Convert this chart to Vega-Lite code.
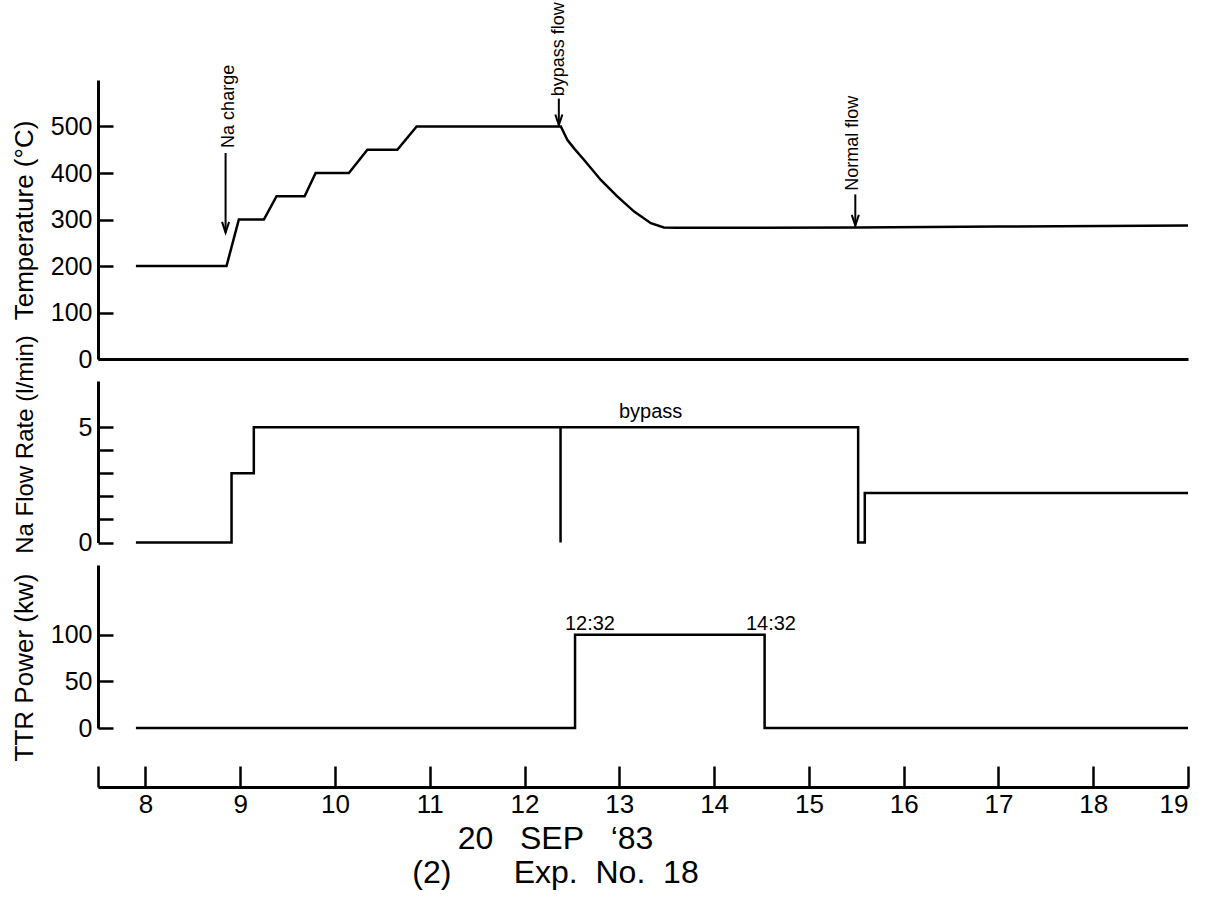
{
  "$schema": "https://vega.github.io/schema/vega-lite/v6.json",
  "background": "white",
  "padding": {"left": 11, "top": 2, "right": 5, "bottom": 5},
  "spacing": 22,
  "bounds": "flush",
  "config": {
    "view": {"stroke": null},
    "axis": {
      "grid": false,
      "labelOverlap": false,
      "tickCount": 100,
      "domainColor": "black",
      "domainWidth": 3,
      "tickColor": "black",
      "tickWidth": 2.5,
      "labelColor": "black",
      "titleColor": "black",
      "labelFont": "Liberation Sans",
      "titleFont": "Liberation Sans",
      "titleFontWeight": "normal",
      "labelFontSize": 25,
      "titleFontSize": 26
    },
    "text": {"font": "Liberation Sans", "color": "black"},
    "line": {"color": "black", "strokeWidth": 2.5}
  },
  "datasets": {
    "temp": [
      {"h": 7.9, "T": 200}, {"h": 8.856, "T": 200}, {"h": 8.986, "T": 300}, {"h": 9.25, "T": 300},
      {"h": 9.384, "T": 350}, {"h": 9.68, "T": 350}, {"h": 9.796, "T": 400}, {"h": 10.147, "T": 400},
      {"h": 10.342, "T": 450}, {"h": 10.658, "T": 450}, {"h": 10.862, "T": 500}, {"h": 12.383, "T": 500},
      {"h": 12.453, "T": 471}, {"h": 12.523, "T": 453}, {"h": 12.629, "T": 428}, {"h": 12.805, "T": 385},
      {"h": 12.981, "T": 349}, {"h": 13.157, "T": 317}, {"h": 13.333, "T": 292}, {"h": 13.47, "T": 283},
      {"h": 13.6, "T": 282}, {"h": 15.5, "T": 283}, {"h": 17, "T": 285}, {"h": 19, "T": 287}
    ],
    "flow": [
      {"i": 1, "h": 7.9, "F": 0}, {"i": 2, "h": 8.909, "F": 0}, {"i": 3, "h": 8.909, "F": 3},
      {"i": 4, "h": 9.144, "F": 3}, {"i": 5, "h": 9.144, "F": 5}, {"i": 6, "h": 12.38, "F": 5},
      {"i": 7, "h": 12.38, "F": 0}, {"i": 8, "h": 12.38, "F": 5}, {"i": 9, "h": 15.52, "F": 5},
      {"i": 10, "h": 15.52, "F": 0}, {"i": 11, "h": 15.59, "F": 0}, {"i": 12, "h": 15.59, "F": 2.15},
      {"i": 13, "h": 19, "F": 2.15}
    ],
    "power": [
      {"i": 1, "h": 7.9, "P": 0}, {"i": 2, "h": 12.533, "P": 0}, {"i": 3, "h": 12.533, "P": 100},
      {"i": 4, "h": 14.533, "P": 100}, {"i": 5, "h": 14.533, "P": 0}, {"i": 6, "h": 19, "P": 0}
    ],
    "tempNotes": [
      {"h": 8.877, "T": 454, "label": "Na charge"},
      {"h": 12.362, "T": 565, "label": "bypass flow"},
      {"h": 15.47, "T": 362, "label": "Normal flow"}
    ],
    "arrows": [
      {"h": 8.846, "top": 443, "tip": 272},
      {"h": 12.362, "top": 560, "tip": 503},
      {"h": 15.49, "top": 354, "tip": 287}
    ],
    "flowNotes": [{"h": 13.33, "F": 5, "label": "bypass"}],
    "powerNotes": [
      {"h": 12.69, "P": 100, "label": "12:32"},
      {"h": 14.60, "P": 100, "label": "14:32"}
    ]
  },
  "vconcat": [
    {
      "width": 1090,
      "height": 279,
      "layer": [
        {
          "data": {"name": "temp"},
          "mark": {"type": "line", "color": "black", "strokeWidth": 2.5},
          "encoding": {
            "x": {"field": "h", "type": "quantitative", "scale": {"domain": [7.5, 19], "nice": false, "zero": false},
              "axis": {"ticks": false, "labels": false, "title": null, "domain": true, "domainWidth": 3}},
            "y": {"field": "T", "type": "quantitative", "scale": {"domain": [0, 600], "nice": false},
              "axis": {"values": [0, 100, 200, 300, 400, 500], "format": "d", "tickSize": -15, "labelPadding": 21,
                "title": "Temperature (°C)", "titleX": -66, "titleY": 140, "titleBaseline": "alphabetic", "titleAngle": 270}}
          }
        },
        {
          "data": {"name": "arrows"},
          "mark": {"type": "rule", "color": "black", "strokeWidth": 2},
          "encoding": {
            "x": {"field": "h", "type": "quantitative"},
            "y": {"field": "top", "type": "quantitative"},
            "y2": {"field": "tip"}
          }
        },
        {
          "data": {"name": "arrows"},
          "mark": {"type": "point", "shape": "M-0.5,-1.5L0,0L0.5,-1.5", "filled": false, "stroke": "black", "strokeWidth": 2, "size": 200, "opacity": 1},
          "encoding": {
            "x": {"field": "h", "type": "quantitative"},
            "y": {"field": "tip", "type": "quantitative"}
          }
        },
        {
          "data": {"name": "tempNotes"},
          "mark": {"type": "text", "angle": 270, "align": "left", "baseline": "middle", "fontSize": 18},
          "encoding": {
            "x": {"field": "h", "type": "quantitative"},
            "y": {"field": "T", "type": "quantitative"},
            "text": {"field": "label"}
          }
        }
      ]
    },
    {
      "width": 1090,
      "height": 161.5,
      "layer": [
        {
          "data": {"name": "flow"},
          "mark": {"type": "line", "color": "black", "strokeWidth": 2.5},
          "encoding": {
            "x": {"field": "h", "type": "quantitative", "scale": {"domain": [7.5, 19], "nice": false, "zero": false}, "axis": null},
            "y": {"field": "F", "type": "quantitative", "scale": {"domain": [0, 7], "nice": false},
              "axis": {"values": [0, 1, 2, 3, 4, 5], "format": "d", "tickSize": -15, "labelPadding": 21,
                "labelExpr": "datum.value == 0 || datum.value == 5 ? datum.label : ''",
                "title": "Na Flow Rate (l/min)", "titleFontSize": 24, "titleX": -66, "titleY": 63, "titleBaseline": "alphabetic", "titleAngle": 270}},
            "order": {"field": "i", "type": "quantitative"}
          }
        },
        {
          "data": {"name": "flowNotes"},
          "mark": {"type": "text", "baseline": "alphabetic", "align": "center", "dy": -9, "fontSize": 20},
          "encoding": {
            "x": {"field": "h", "type": "quantitative"},
            "y": {"field": "F", "type": "quantitative"},
            "text": {"field": "label"}
          }
        }
      ]
    },
    {
      "width": 1090,
      "height": 163,
      "layer": [
        {
          "data": {"name": "power"},
          "mark": {"type": "line", "color": "black", "strokeWidth": 2.5},
          "encoding": {
            "x": {"field": "h", "type": "quantitative", "scale": {"domain": [7.5, 19], "nice": false, "zero": false},
              "axis": {"orient": "bottom", "offset": 59, "values": [7.5, 8, 9, 10, 11, 12, 13, 14, 15, 16, 17, 18, 19],
                "tickCount": 100, "tickMinStep": 0.1, "labelOverlap": false, "labelBound": false,
                "tickSize": -21, "labelPadding": 25, "labelFontSize": 26,
                "labelExpr": "datum.value == 7.5 ? '' : format(datum.value, 'd')",
                "title": ["20\u00a0\u00a0\u00a0SEP\u00a0\u00a0\u00a0‘83", "(2)\u00a0\u00a0\u00a0\u00a0\u00a0\u00a0\u00a0Exp.\u00a0\u00a0No.\u00a0\u00a018"],
                "titleFontSize": 32, "titleLineHeight": 34, "titleX": 457, "titleAlign": "center", "titlePadding": 6}},
            "y": {"field": "P", "type": "quantitative", "scale": {"domain": [0, 175], "nice": false},
              "axis": {"values": [0, 50, 100], "format": "d", "tickSize": -15, "labelPadding": 21,
                "title": "TTR Power (kw)", "titleX": -66, "titleY": 102, "titleBaseline": "alphabetic", "titleAngle": 270}},
            "order": {"field": "i", "type": "quantitative"}
          }
        },
        {
          "data": {"name": "powerNotes"},
          "mark": {"type": "text", "baseline": "alphabetic", "align": "center", "dy": -5, "fontSize": 20},
          "encoding": {
            "x": {"field": "h", "type": "quantitative"},
            "y": {"field": "P", "type": "quantitative"},
            "text": {"field": "label"}
          }
        }
      ]
    }
  ]
}
